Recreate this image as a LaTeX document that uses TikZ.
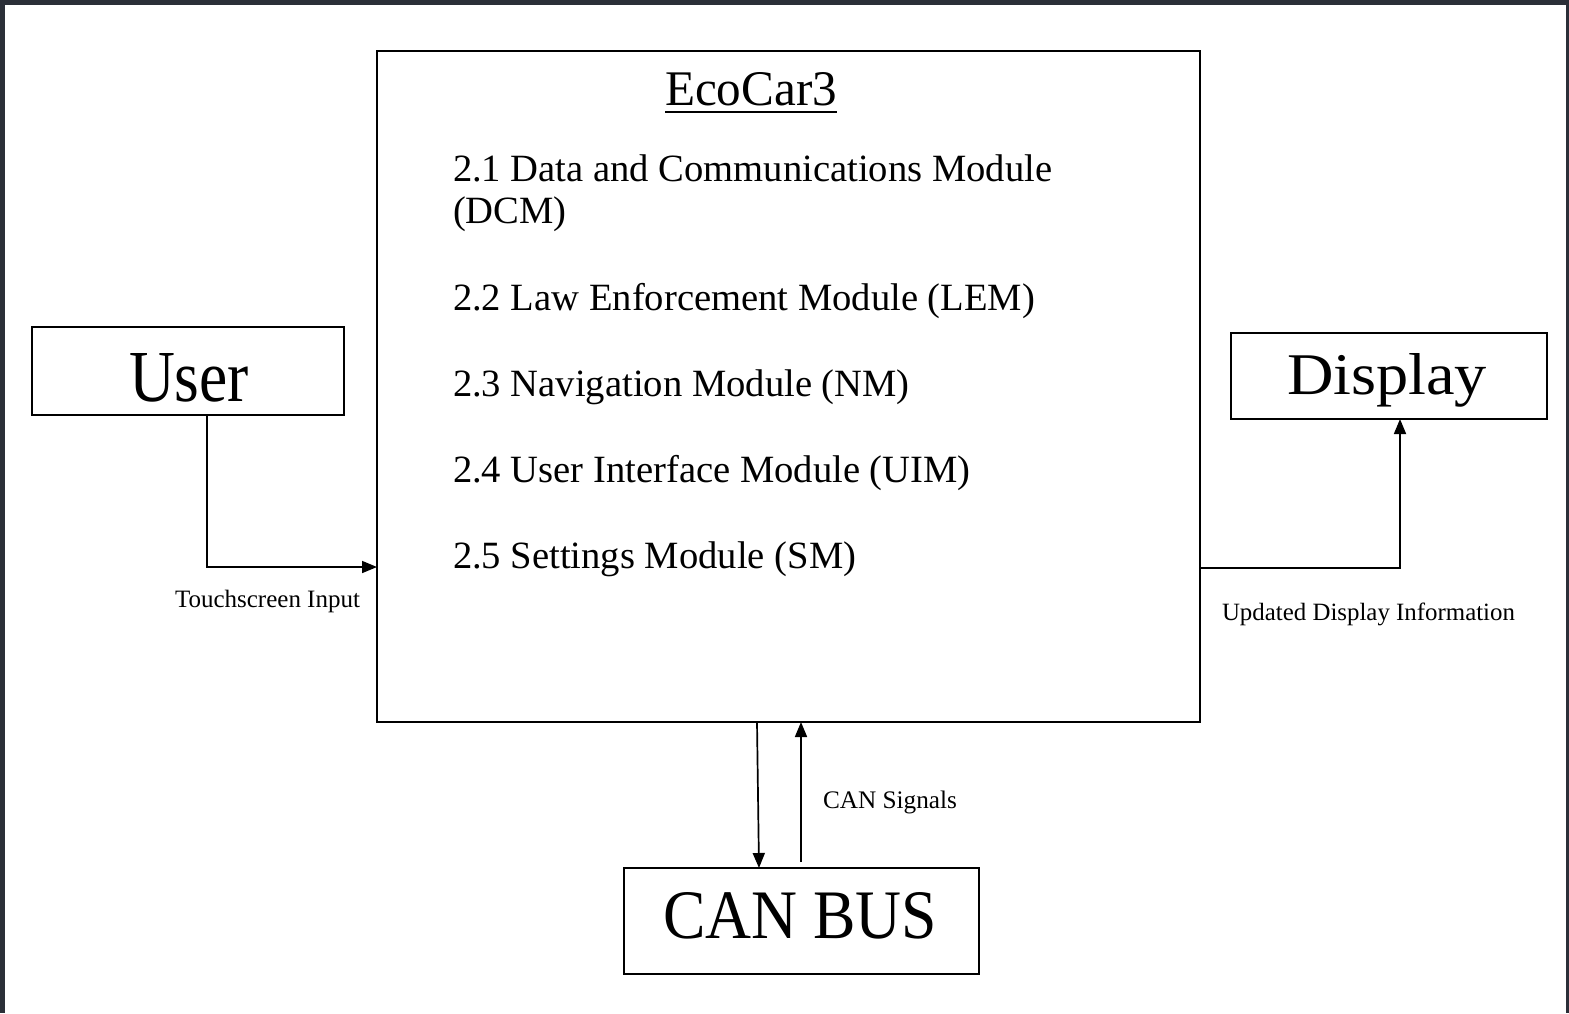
\documentclass[tikz,border=0pt]{standalone}
\usepackage{fontspec}
\setmainfont{Liberation Serif}
\usepackage{graphicx}
\usetikzlibrary{arrows.meta}
\definecolor{frame}{HTML}{2B2F38}
\tikzset{
  box/.style={draw=black, line width=1.6pt, inner sep=0pt, outer sep=0pt, anchor=north west},
  lbl/.style={anchor=base west, inner sep=0pt, outer sep=0pt},
  modtext/.style={lbl, font=\fontsize{38.6}{42}\selectfont},
  conn/.style={draw=black, line width=1.7pt, -{Triangle[length=15pt,width=12pt]}},
}
\begin{document}
\begin{tikzpicture}[x=1pt,y=-1pt]
\useasboundingbox (0,0) rectangle (1569,1013);
\fill[frame] (0,0) rectangle (1569,1013);
\fill[white] (5,5) rectangle (1566,1013);

% boxes
\node[box, minimum width=823pt, minimum height=671pt] (main) at (377,51) {};
\node[box, minimum width=312pt, minimum height=88pt] (user) at (32,327) {};
\node[box, minimum width=316pt, minimum height=86pt] (display) at (1231,333) {};
\node[box, minimum width=355pt, minimum height=106pt] (can) at (624,868) {};

% box labels
\node[lbl] (userlbl) at (129,401) {\resizebox{120pt}{48pt}{User}};
\node[lbl] (displbl) at (1287,394) {\resizebox{200pt}{41pt}{Display}};
\node[lbl] (canlbl) at (663,938) {\resizebox{274pt}{46pt}{CAN BUS}};
\node[lbl] (eco) at (665,105) {\resizebox{172pt}{33pt}{EcoCar3}};
\draw[line width=2pt] ([yshift=-7pt]eco.base west) -- ([yshift=-7pt]eco.base east);

% module list
\node[modtext] (m1a) at (453,181) {2.1 Data and Communications Module};
\node[modtext] (m1b) at (453,223) {(DCM)};
\node[modtext] (m2) at (453,310) {2.2 Law Enforcement Module (LEM)};
\node[modtext] (m3) at (453,396) {2.3 Navigation Module (NM)};
\node[modtext] (m4) at (453,482) {2.4 User Interface Module (UIM)};
\node[modtext] (m5) at (453,568) {2.5 Settings Module (SM)};

% connector labels
\node[lbl] (tin) at (175,607) {\resizebox{185pt}{!}{\fontsize{24}{28}\selectfont Touchscreen Input}};
\node[lbl] (udi) at (1222,620) {\resizebox{293pt}{!}{\fontsize{24}{28}\selectfont Updated Display Information}};
\node[lbl] (cans) at (823,808) {\resizebox{134pt}{!}{\fontsize{24}{28}\selectfont CAN Signals}};

% connectors
\draw[conn] (user.south -| 207,0) |- (main.west |- 0,567);
\draw[conn] (main.east |- 0,568) -| (display.south -| 1400,0);
\draw[conn] (main.south -| 757,0) -- (can.north -| 759,0);
\draw[conn, shorten <=6pt] (can.north -| 801,0) -- (main.south -| 801,0);
\end{tikzpicture}
\end{document}
